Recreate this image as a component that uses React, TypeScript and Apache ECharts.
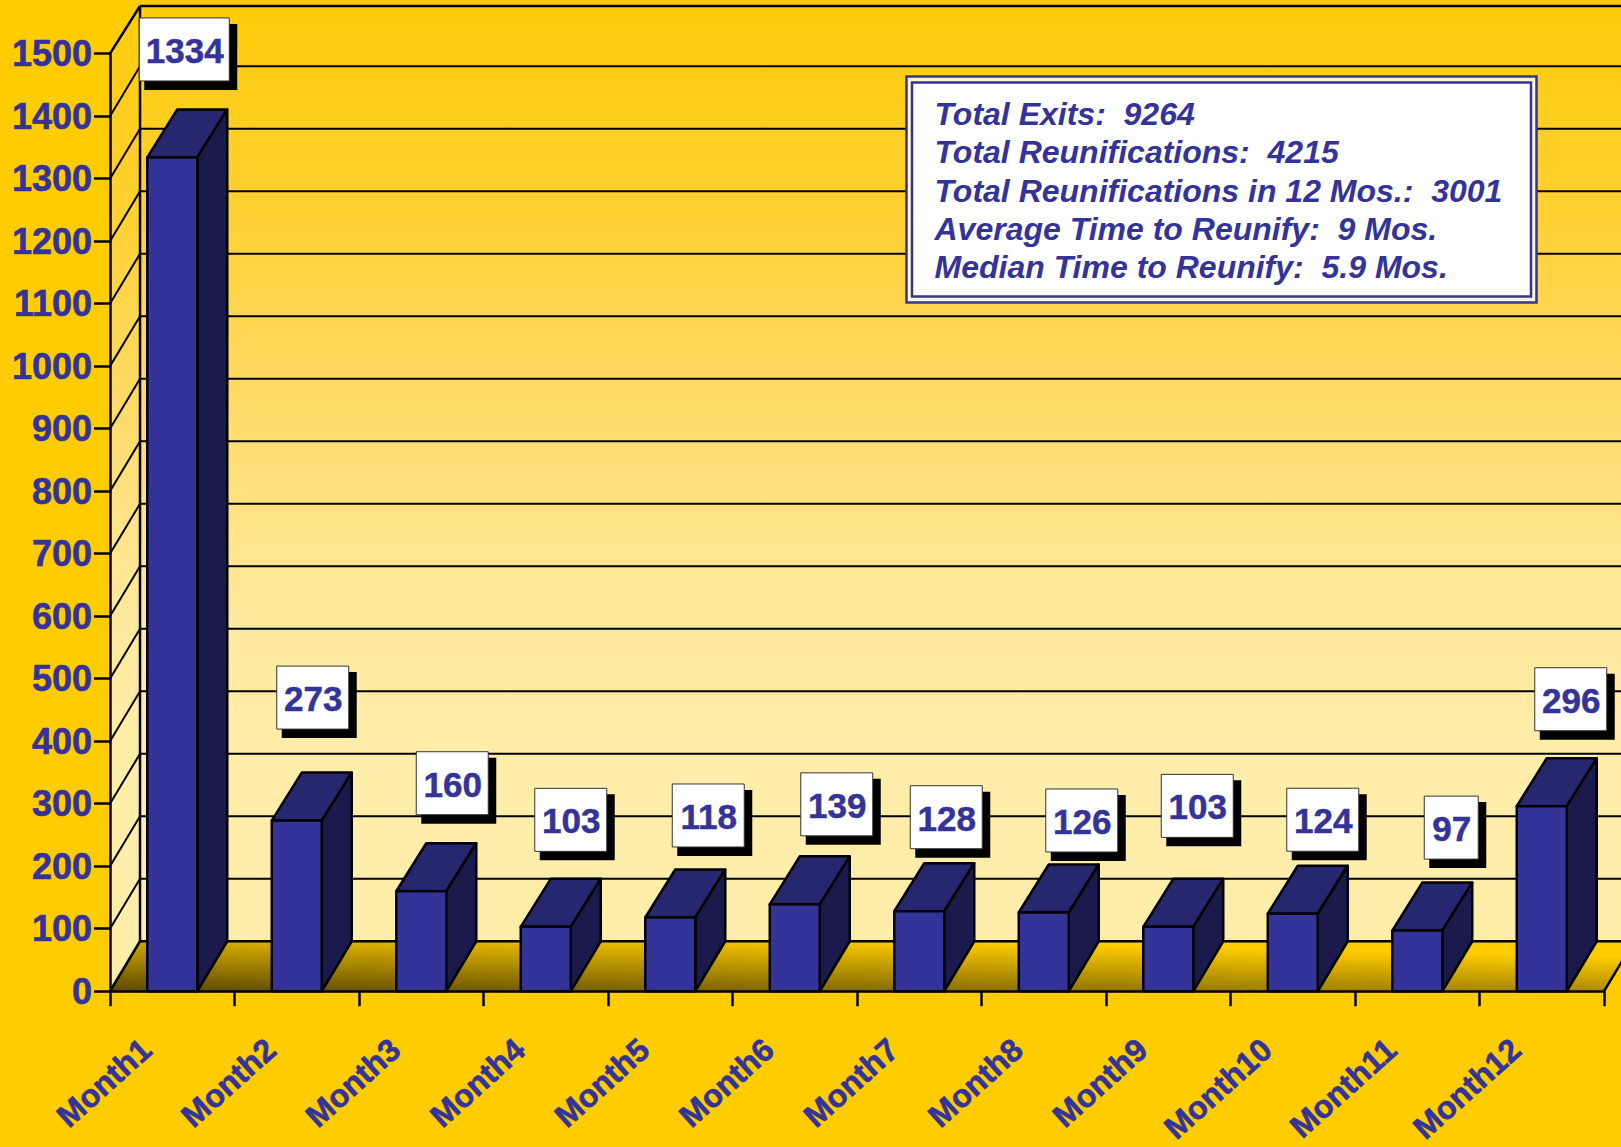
import React, { useEffect, useRef } from "react";
import * as echarts from "echarts";

const categories = ["Month1", "Month2", "Month3", "Month4", "Month5", "Month6", "Month7", "Month8", "Month9", "Month10", "Month11", "Month12"];
const values = [1334, 273, 160, 103, 118, 139, 128, 126, 103, 124, 97, 296];
const yTicks = [0, 100, 200, 300, 400, 500, 600, 700, 800, 900, 1000, 1100, 1200, 1300, 1400, 1500];
const infoLines = [
  "Total Exits:  9264",
  "Total Reunifications:  4215",
  "Total Reunifications in 12 Mos.:  3001",
  "Average Time to Reunify:  9 Mos.",
  "Median Time to Reunify:  5.9 Mos.",
];
// label box centre relative to the bar's front-top-centre
const labelOffsets = [[12, -108], [16, -123], [31, -108], [25, -107], [38, -102], [42, -100], [27, -94], [38, -92], [29, -121], [30, -94], [34, -103], [29, -107]];

const BLUE = "#333399";
const DX = 30;
const DY = 50;
const TOP_Y = 6;
const BAR_W = 50;
const FONT = '"Liberation Sans", Arial, sans-serif';

export default function App() {
  const ref = useRef<HTMLDivElement>(null);
  useEffect(() => {
    document.body.style.margin = "0";
    const chart = echarts.init(ref.current!, undefined, { renderer: "svg" });
    const wallFill = new echarts.graphic.LinearGradient(0, TOP_Y, 0, 941, [
      { offset: 0, color: "#FFCC0A" },
      { offset: 0.21, color: "#FFD030" },
      { offset: 0.42, color: "#FFDA66" },
      { offset: 0.63, color: "#FFE89A" },
      { offset: 0.8, color: "#FFEDA9" },
      { offset: 1, color: "#FFEEAA" },
    ], true);
    const floorFill = new echarts.graphic.LinearGradient(110, 1030, 112.5, 922, [
      { offset: 0, color: "#000000" },
      { offset: 1, color: "#FFCC00" },
    ], true);

    const blackLine = (x1: number, y1: number, x2: number, y2: number, w = 2) => ({
      type: "line",
      shape: { x1, y1, x2, y2 },
      style: { stroke: "#000", lineWidth: w, fill: null },
    });

    chart.setOption({
      animation: false,
      backgroundColor: "#FFCC00",
      grid: { left: 110, top: 53.7, width: 1494, height: 938, containLabel: false },
      xAxis: {
        type: "category",
        data: categories,
        z: 5,
        axisLine: { lineStyle: { color: "#000", width: 2.5 } },
        axisTick: { show: true, length: 15, lineStyle: { color: "#000", width: 2.5 } },
        axisLabel: {
          interval: 0,
          rotate: 42,
          margin: 30,
          padding: [0, 35, 0, 0],
          color: BLUE,
          fontFamily: FONT,
          fontWeight: "bold",
          fontSize: 32,
          textBorderColor: BLUE,
          textBorderWidth: 0.6,
        },
      },
      yAxis: {
        type: "value",
        min: 0,
        max: 1500,
        interval: 100,
        z: 5,
        splitLine: { show: false },
        axisLine: { show: true, lineStyle: { color: "#000", width: 2.5 } },
        axisTick: { show: true, length: 16, lineStyle: { color: "#000", width: 2.5 } },
        axisLabel: {
          margin: 18,
          color: BLUE,
          fontFamily: FONT,
          fontWeight: "bold",
          fontSize: 36,
          textBorderColor: BLUE,
          textBorderWidth: 0.6,
          formatter: (v: number) => String(v),
        },
      },
      series: [
        {
          type: "custom",
          name: "walls",
          coordinateSystem: "cartesian2d",
          z: 1,
          silent: true,
          data: [[0, 0]],
          renderItem: (_: any, api: any) => {
            const b = api.size([1, 0])[0];
            const c0 = api.coord([0, 0]);
            const cTop = api.coord([0, 1500]);
            const left = c0[0] - b / 2;
            const right = left + b * categories.length;
            const y0 = c0[1];
            return {
              type: "group",
              children: [
                { type: "rect", shape: { x: left + DX, y: TOP_Y, width: right - left, height: y0 - DY - TOP_Y }, style: { fill: wallFill } },
                { type: "polygon", shape: { points: [[left, y0], [left + DX, y0 - DY], [left + DX, TOP_Y], [left, cTop[1]]] }, style: { fill: wallFill } },
                { type: "polygon", shape: { points: [[left, y0], [right, y0], [right + DX, y0 - DY], [left + DX, y0 - DY]] }, style: { fill: floorFill } },
                blackLine(left + DX, TOP_Y, left + DX, y0 - DY, 2.5),
                blackLine(right, y0, right + DX, y0 - DY, 2.5),
              ],
            };
          },
        },
        {
          type: "custom",
          name: "gridlines",
          coordinateSystem: "cartesian2d",
          z: 2,
          silent: true,
          data: yTicks.map((t) => [0, t]),
          encode: { x: 0, y: 1 },
          renderItem: (_: any, api: any) => {
            const b = api.size([1, 0])[0];
            const c = api.coord([0, api.value(1)]);
            const left = c[0] - b / 2;
            const right = left + b * categories.length;
            const yBack = Math.max(c[1] - DY, TOP_Y);
            const w = api.value(1) === 0 || api.value(1) === 1500 ? 2.5 : 2;
            return {
              type: "group",
              children: [
                blackLine(left, c[1], left + DX, yBack, w),
                blackLine(left + DX, yBack, right + DX, yBack, w),
              ],
            };
          },
        },
        {
          type: "custom",
          name: "bars",
          coordinateSystem: "cartesian2d",
          z: 3,
          silent: true,
          data: values.map((v, i) => [i, v]),
          encode: { x: 0, y: 1 },
          renderItem: (_: any, api: any) => {
            const top = api.coord([api.value(0), api.value(1)]);
            const base = api.coord([api.value(0), 0]);
            const l = top[0] - BAR_W / 2;
            const r = top[0] + BAR_W / 2;
            const edge = { stroke: "#000", lineWidth: 2.5, lineJoin: "round" };
            return {
              type: "group",
              children: [
                { type: "polygon", shape: { points: [[l, top[1]], [r, top[1]], [r + DX, top[1] - DY + 2], [l + DX, top[1] - DY + 2]] }, style: { fill: "#272770", ...edge } },
                { type: "polygon", shape: { points: [[r, top[1]], [r + DX, top[1] - DY + 2], [r + DX, base[1] - DY], [r, base[1]]] }, style: { fill: "#1A1A4D", ...edge } },
                { type: "rect", shape: { x: l, y: top[1], width: BAR_W, height: base[1] - top[1] }, style: { fill: BLUE, ...edge } },
              ],
            };
          },
        },
        {
          type: "custom",
          name: "labels",
          coordinateSystem: "cartesian2d",
          z: 6,
          silent: true,
          data: values.map((v, i) => [i, v]),
          encode: { x: 0, y: 1 },
          renderItem: (p: any, api: any) => {
            const i = api.value(0);
            const v = api.value(1);
            const c = api.coord([i, v]);
            const [ox, oy] = labelOffsets[p.dataIndex];
            const text = String(v);
            const w = 18 * text.length + 18;
            const h = 63;
            const cx = c[0] + ox;
            const cy = c[1] + oy;
            return {
              type: "group",
              children: [
                { type: "rect", shape: { x: cx - w / 2 + 5, y: cy - h / 2 + 6, width: w + 3, height: h + 3 }, style: { fill: "#000" } },
                { type: "rect", shape: { x: cx - w / 2, y: cy - h / 2, width: w, height: h }, style: { fill: "#fff", stroke: "#333", lineWidth: 1 } },
                { type: "text", style: { text, x: cx + 0.5, y: cy + 1, align: "center", verticalAlign: "middle", fill: BLUE, stroke: BLUE, lineWidth: 0.5, font: `bold 35px ${FONT}` } },
              ],
            };
          },
        },
      ],
      graphic: {
        elements: [
          { type: "rect", z: 20, shape: { x: 906.5, y: 76.5, width: 630, height: 226 }, style: { fill: "#FFF7D0", stroke: BLUE, lineWidth: 2.5 } },
          { type: "rect", z: 20, shape: { x: 912, y: 82.5, width: 619, height: 214 }, style: { fill: "#fff", stroke: BLUE, lineWidth: 2.5 } },
          ...infoLines.map((t, i) => ({
            type: "text",
            z: 21,
            style: {
              text: t,
              x: 934.5,
              y: 114 + i * 38.3,
              verticalAlign: "middle",
              fill: BLUE,
              font: `italic bold 32px ${FONT}`,
            },
          })),
        ],
      },
    });
    return () => chart.dispose();
  }, []);
  return <div ref={ref} style={{ position: "absolute", left: 0, top: 0, width: 1621, height: 1147 }} />;
}
